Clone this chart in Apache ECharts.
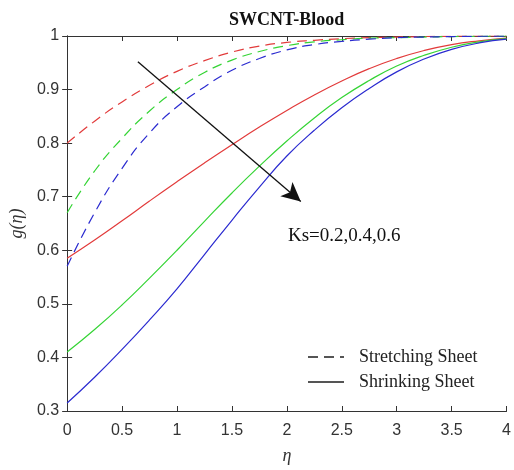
<!DOCTYPE html>
<html>
<head>
<meta charset="utf-8">
<script src="https://cdn.jsdelivr.net/npm/echarts@6/dist/echarts.min.js"></script>
<style>
  html, body { margin: 0; padding: 0; background: #fff; }
  #chart { width: 514px; height: 470px; }
</style>
</head>
<body>
<div id="chart"></div>
<script>
// eta grid
const eta = [0, 0.25, 0.5, 0.75, 1, 1.25, 1.5, 1.75, 2, 2.25, 2.5, 2.75, 3, 3.25, 3.5, 3.75, 4];

// stretching sheet (dashed), Ks = 0.2, 0.4, 0.6
const stretchKs02 = [0.800, 0.841, 0.877, 0.908, 0.934, 0.954, 0.970, 0.981, 0.988, 0.992, 0.995, 0.997, 0.998, 0.999, 0.9995, 1.000, 1.000];
const stretchKs04 = [0.670, 0.748, 0.809, 0.860, 0.900, 0.932, 0.955, 0.971, 0.982, 0.989, 0.993, 0.996, 0.997, 0.998, 0.999, 0.9995, 1.000];
const stretchKs06 = [0.570, 0.670, 0.753, 0.819, 0.868, 0.905, 0.936, 0.958, 0.974, 0.984, 0.990, 0.994, 0.997, 0.998, 0.999, 0.9995, 1.000];

// shrinking sheet (solid), Ks = 0.2, 0.4, 0.6
const shrinkKs02 = [0.585, 0.619, 0.655, 0.692, 0.728, 0.763, 0.797, 0.830, 0.861, 0.890, 0.916, 0.939, 0.958, 0.973, 0.984, 0.991, 0.996];
const shrinkKs04 = [0.410, 0.452, 0.498, 0.548, 0.600, 0.654, 0.707, 0.757, 0.804, 0.847, 0.885, 0.917, 0.944, 0.964, 0.979, 0.989, 0.995];
const shrinkKs06 = [0.315, 0.363, 0.415, 0.470, 0.528, 0.592, 0.656, 0.718, 0.776, 0.824, 0.866, 0.902, 0.933, 0.957, 0.975, 0.987, 0.994];

const xTicks = [0, 0.5, 1, 1.5, 2, 2.5, 3, 3.5, 4];
const yTicks = [0.3, 0.4, 0.5, 0.6, 0.7, 0.8, 0.9, 1];

const RED = "#e23b3b";
const GREEN = "#35d435";
const BLUE = "#2b2bd0";
const serif = "'Liberation Serif', 'DejaVu Serif', serif";
const sans = "'Liberation Sans', Arial, sans-serif";

const pairs = (ys) => eta.map((x, i) => [x, ys[i]]);

function curve(name, ys, color, dashed) {
  return {
    name: name,
    type: "line",
    data: pairs(ys),
    smooth: true,
    showSymbol: false,
    symbol: "none",
    lineStyle: { color: color, width: 1.2, type: dashed ? [10, 6] : "solid" },
    itemStyle: { color: color },
    silent: true,
    z: 3,
  };
}

const axisLine = { show: true, lineStyle: { color: "#333", width: 1 } };
const tickIn = { show: true, inside: true, length: 5, lineStyle: { color: "#333" } };

const option = {
  backgroundColor: "#fff",
  animation: false,
  title: {
    text: "SWCNT-Blood",
    left: 224,
    top: 6,
    textStyle: { fontFamily: serif, fontWeight: "bold", fontSize: 18, color: "#111" },
  },
  grid: { left: 63, right: 4, top: 36, bottom: 59 },
  legend: {
    data: ["Stretching Sheet", "Shrinking Sheet"],
    orient: "vertical",
    left: 302,
    top: 343,
    itemWidth: 36,
    itemHeight: 12,
    itemGap: 7,
    itemStyle: { opacity: 0 },
    textStyle: { fontFamily: serif, fontSize: 18, color: "#222", padding: [0, 0, 0, 10] },
  },
  xAxis: [
    {
      type: "value",
      min: xTicks[0],
      max: xTicks[xTicks.length - 1],
      interval: 0.5,
      name: "η",
      nameLocation: "middle",
      nameGap: 36,
      nameTextStyle: { fontFamily: serif, fontStyle: "italic", fontSize: 18, color: "#333" },
      axisLine: axisLine,
      axisTick: tickIn,
      axisLabel: { fontFamily: sans, fontSize: 16, color: "#333", margin: 12 },
      splitLine: { show: false },
    },
    {
      type: "value",
      position: "top",
      min: xTicks[0],
      max: xTicks[xTicks.length - 1],
      interval: 0.5,
      axisLine: axisLine,
      axisTick: tickIn,
      axisLabel: { show: false },
      splitLine: { show: false },
    },
  ],
  yAxis: [
    {
      type: "value",
      min: yTicks[0],
      max: yTicks[yTicks.length - 1],
      interval: 0.1,
      name: "g(η)",
      nameLocation: "middle",
      nameGap: 37,
      nameRotate: 90,
      nameTextStyle: { fontFamily: serif, fontStyle: "italic", fontSize: 18, color: "#333" },
      axisLine: axisLine,
      axisTick: tickIn,
      axisLabel: { fontFamily: sans, fontSize: 16, color: "#333", margin: 8 },
      splitLine: { show: false },
    },
    {
      type: "value",
      position: "right",
      min: yTicks[0],
      max: yTicks[yTicks.length - 1],
      interval: 0.1,
      axisLine: axisLine,
      axisTick: tickIn,
      axisLabel: { show: false },
      splitLine: { show: false },
    },
  ],
  graphic: [
    {
      type: "text",
      left: 288,
      top: 227,
      style: { text: "Ks=0.2,0.4,0.6", font: "19px " + serif, fill: "#111" },
    },
  ],
  series: [
    curve("Stretching Ks=0.2", stretchKs02, RED, true),
    curve("Stretching Ks=0.4", stretchKs04, GREEN, true),
    curve("Stretching Ks=0.6", stretchKs06, BLUE, true),
    curve("Shrinking Ks=0.2", shrinkKs02, RED, false),
    curve("Shrinking Ks=0.4", shrinkKs04, GREEN, false),
    Object.assign(curve("Shrinking Ks=0.6", shrinkKs06, BLUE, false), {
      markLine: {
        silent: true,
        symbol: ["none", "arrow"],
        symbolSize: [14, 19],
        label: { show: false },
        lineStyle: { color: "#111", width: 1.3, type: "solid" },
        data: [[{ coord: [0.644, 0.952] }, { coord: [2.127, 0.691] }]],
      },
    }),
    {
      name: "Stretching Sheet",
      type: "line",
      data: [],
      symbol: "none",
      itemStyle: { color: "#555" },
      lineStyle: { color: "#555", width: 2, type: [10, 6] },
    },
    {
      name: "Shrinking Sheet",
      type: "line",
      data: [],
      symbol: "none",
      itemStyle: { color: "#555" },
      lineStyle: { color: "#555", width: 2, type: "solid" },
    },
  ],
};

const chart = echarts.init(document.getElementById("chart"), null, { renderer: "canvas" });
chart.setOption(option);
</script>
</body>
</html>
